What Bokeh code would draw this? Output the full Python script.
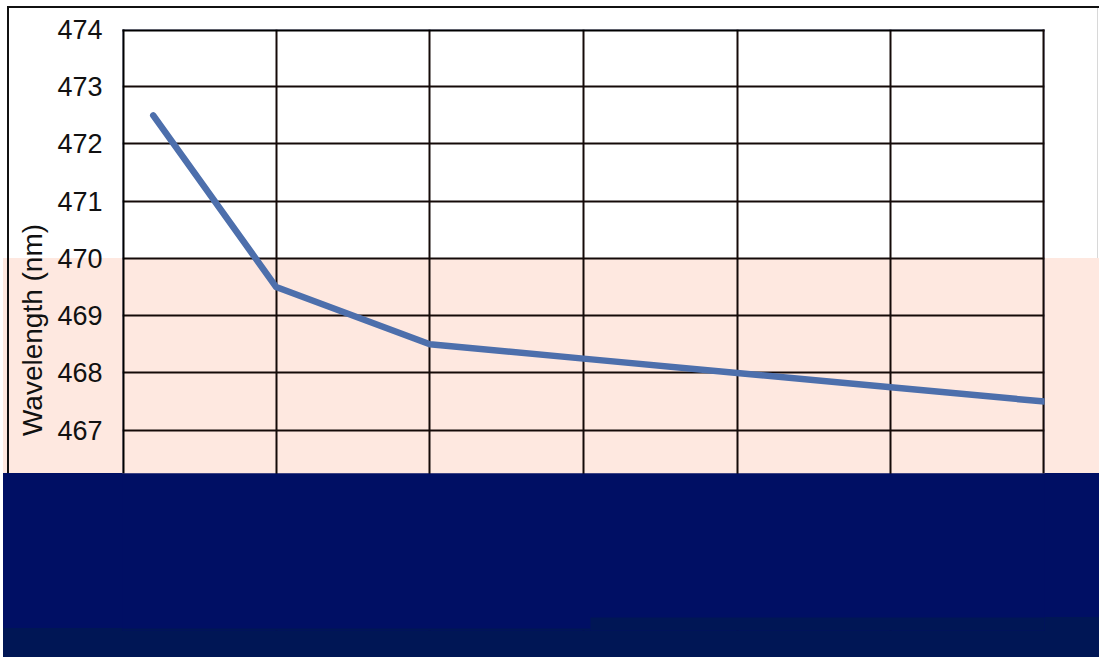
from bokeh.plotting import figure
from bokeh.models import BoxAnnotation, FixedTicker, Range1d
from bokeh.embed import file_html
from bokeh.resources import INLINE

# data
x_vals = [1, 5, 10, 15, 20, 25, 30]
wavelength = [472.5, 469.5, 468.5, 468.25, 468.0, 467.75, 467.5]
y_ticks = [467, 468, 469, 470, 471, 472, 473, 474]   # labels below 467 are hidden
x_ticks = [0, 5, 10, 15, 20, 25, 30]

W, H = 1099, 657
p = figure(width=W, height=H, output_backend="svg", toolbar_location=None,
           x_range=Range1d(0, 30), y_range=Range1d(463.5, 474),
           min_border_left=122, min_border_right=55,
           min_border_top=29, min_border_bottom=27)

p.background_fill_color = "#000F64"
p.border_fill_color = None
p.outline_line_color = None

p.xaxis.ticker = FixedTicker(ticks=x_ticks)
p.yaxis.ticker = FixedTicker(ticks=y_ticks)
p.xgrid.grid_line_color = "#140a08"
p.xgrid.grid_line_width = 2
p.ygrid.grid_line_color = "#140a08"
p.ygrid.grid_line_width = 2
p.xaxis.visible = False

ax = p.yaxis[0]
ax.axis_line_color = None
ax.major_tick_line_color = None
ax.minor_tick_line_color = None
ax.major_label_standoff = 14
ax.major_label_text_font = "Liberation Sans"
ax.major_label_text_font_size = "27px"
ax.major_label_text_color = "#111111"
ax.axis_label = "Wavelength (nm)"
ax.axis_label_text_font = "Liberation Sans"
ax.axis_label_text_font_size = "28px"
ax.axis_label_text_font_style = "normal"
ax.axis_label_text_color = "#111111"
ax.axis_label_standoff = 6

# page-wide colour bands behind the canvas (tinted band, dark blocks, outer border)
layers = [
    "linear-gradient(#111111,#111111) 8px 6px / 1091px 2px no-repeat",
    "linear-gradient(#111111,#111111) 7px 6px / 2px 467px no-repeat",
    "linear-gradient(#d8d8d8,#d8d8d8) 1097px 7px / 1px 251px no-repeat",
    "linear-gradient(#001655,#001655) 3px 628px / 1096px 29px no-repeat",
    "linear-gradient(#001655,#001655) 590px 617px / 509px 40px no-repeat",
    "linear-gradient(#000F64,#000F64) 3px 473px / 1096px 184px no-repeat",
    "linear-gradient(#FEE8E0,#FEE8E0) 3px 258px / 1096px 215px no-repeat",
    "#ffffff",
]
p.styles = {"background": ", ".join(layers)}


def cbox(left, right, top, bottom, color, level):
    return BoxAnnotation(left=left, right=right, top=top, bottom=bottom,
                         left_units="canvas", right_units="canvas",
                         top_units="canvas", bottom_units="canvas",
                         fill_color=color, fill_alpha=1, line_color=None, level=level)


# white upper part and tinted band inside the plot frame
p.add_layout(cbox(0, W, 0, 258, "#ffffff", "image"))
p.add_layout(cbox(0, W, 258, 473, "#FEE8E0", "image"))
# plot-area border (top, left, right edges)
p.add_layout(cbox(0, W, 0, 31, "#000000", "underlay"))
p.add_layout(cbox(0, 124, 0, 473, "#000000", "underlay"))
p.add_layout(cbox(1042, W, 0, 473, "#140a08", "underlay"))

p.line(x_vals, wavelength, line_color="#4D6FAC", line_width=6.5,
       line_cap="round", line_join="round")

# dark blocks inside the plot frame
p.add_layout(cbox(0, W, 473, H, "#000F64", "overlay"))
p.add_layout(cbox(0, 590, 628, H, "#001655", "overlay"))
p.add_layout(cbox(590, W, 617, H, "#001655", "overlay"))

open("out.html", "w").write(file_html(p, INLINE))
